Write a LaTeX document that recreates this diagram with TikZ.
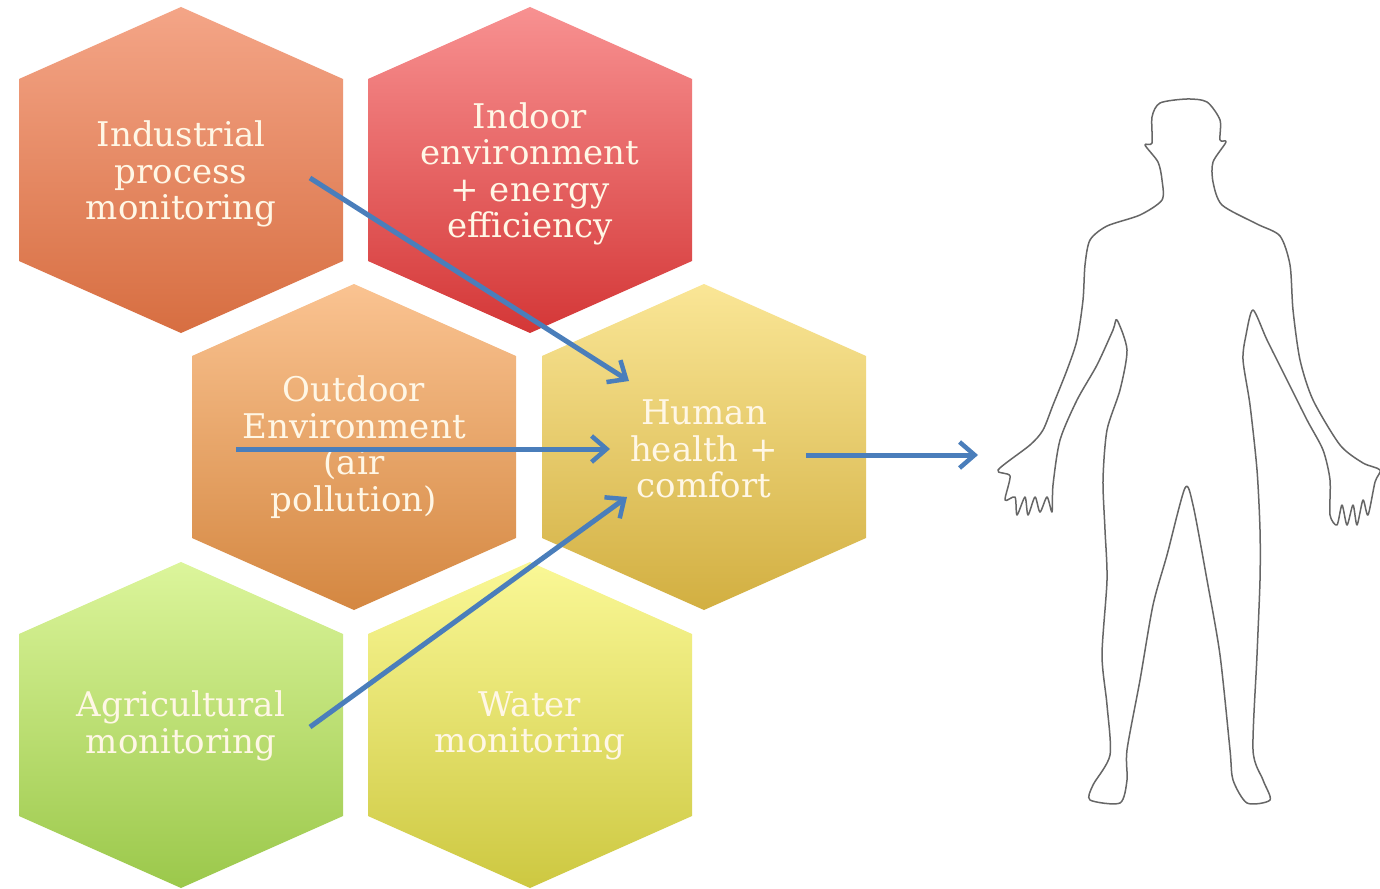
\documentclass[tikz,border=0pt]{standalone}
\usepackage{fontspec}
\setmainfont{DejaVu Serif}
\usetikzlibrary{arrows.meta}
\definecolor{txt}{HTML}{FFF7E6}
\definecolor{arrowblue}{HTML}{4A7EBB}
\definecolor{bodyline}{HTML}{666666}
\definecolor{indT}{HTML}{F4A587}\definecolor{indB}{HTML}{D76E41}
\definecolor{inoT}{HTML}{F89191}\definecolor{inoB}{HTML}{D43737}
\definecolor{outT}{HTML}{FAC391}\definecolor{outB}{HTML}{D48741}
\definecolor{humT}{HTML}{FAE696}\definecolor{humB}{HTML}{D2AF41}
\definecolor{agrT}{HTML}{DCF59B}\definecolor{agrB}{HTML}{9BC84B}
\definecolor{watT}{HTML}{FAF896}\definecolor{watB}{HTML}{CDC841}
\newcommand\myhex[4]{%
  \shade[top color=#3,bottom color=#4]
    ({#1-162},{#2-91}) -- (#1,{#2-163}) -- ({#1+162},{#2-91}) --
    ({#1+162},{#2+91}) -- (#1,{#2+163}) -- ({#1-162},{#2+91}) -- cycle;}
\tikzset{
  lbl/.style={text=txt,align=center,inner sep=0pt,font=\fontsize{34}{36.5}\selectfont},
  conn/.style={draw=arrowblue,line width=5pt,-{Straight Barb[length=15pt,width=26pt,line width=4.5pt]}},
  body/.style={draw=bodyline,line width=1.5pt,line join=round}
}
\begin{document}
\begin{tikzpicture}[x=1pt,y=-1pt]
\useasboundingbox (0,0) rectangle (1380,888);
\fill[white] (0,0) rectangle (1380,888);
% hexagons
\myhex{181}{170}{indT}{indB}
\myhex{530}{170}{inoT}{inoB}
\myhex{354}{447}{outT}{outB}
\myhex{704}{447}{humT}{humB}
\myhex{181}{725}{agrT}{agrB}
\myhex{530}{725}{watT}{watB}
% labels
\node[lbl] (ind) at (181,174) {Industrial\\process\\monitoring};
\node[lbl] (indoor) at (530,174) {Indoor\\environment\\+ energy\\efficiency};
\node[lbl] (out) at (354,447) {Outdoor\\Environment\\(air\\pollution)};
\node[lbl] (hum) at (704,449) {Human\\health +\\comfort};
\node[lbl] (agr) at (181,726) {Agricultural\\monitoring};
\node[lbl] (wat) at (530,726) {Water\\monitoring};
% connector ends
\coordinate (s1) at (310,178);
\coordinate (e1) at (629,381);
\coordinate (s2) at (236,449);
\coordinate (e2) at (610,449);
\coordinate (s3) at (310,727);
\coordinate (e3) at (627,497);
\coordinate (s4) at (806,455);
\coordinate (e4) at (978,455);
\draw[conn] (s1) -- (e1);
\draw[conn] (s2) -- (e2);
\draw[conn] (s3) -- (e3);
\draw[conn] (s4) -- (e4);
% human figure
\draw[body] plot[smooth cycle,tension=0.45] coordinates {
(1187,99) (1207,102) (1220,120) (1220,140) (1226,142) (1213,162) (1213,182)
(1222,205) (1257,224) (1280,236) (1290,265) (1293,310) (1300,360) (1313,400)
(1340,445) (1363,463) (1380,470) (1375,482) (1368,515) (1363,500) (1357,525)
(1353,505) (1347,525) (1342,505) (1337,525) (1330,515) (1330,480) (1323,450)
(1307,420) (1287,380) (1267,340) (1253,310) (1246,335) (1243,360) (1250,405)
(1257,470) (1260,530) (1260,580) (1257,655) (1253,750) (1263,780) (1270,800)
(1247,803) (1233,780) (1230,750) (1220,655) (1207,580) (1193,505) (1185,488)
(1167,555) (1153,605) (1140,680) (1127,750) (1127,780) (1120,803) (1090,800)
(1093,785) (1110,755) (1107,705) (1102,655) (1107,580) (1105,530) (1103,480)
(1107,430) (1120,390) (1127,350) (1117,320) (1113,330) (1097,365) (1077,400)
(1060,440) (1053,485) (1052,512) (1047,497) (1040,512) (1035,497) (1028,515)
(1025,497) (1017,515) (1015,497) (1005,500) (1010,476) (998,470) (1030,445)
(1043,430) (1053,405) (1067,370) (1077,340) (1083,300) (1085,265) (1090,240)
(1107,226) (1140,215) (1162,200) (1162,180) (1158,162) (1145,145) (1152,143)
(1152,117) (1160,103)};
\end{tikzpicture}
\end{document}
